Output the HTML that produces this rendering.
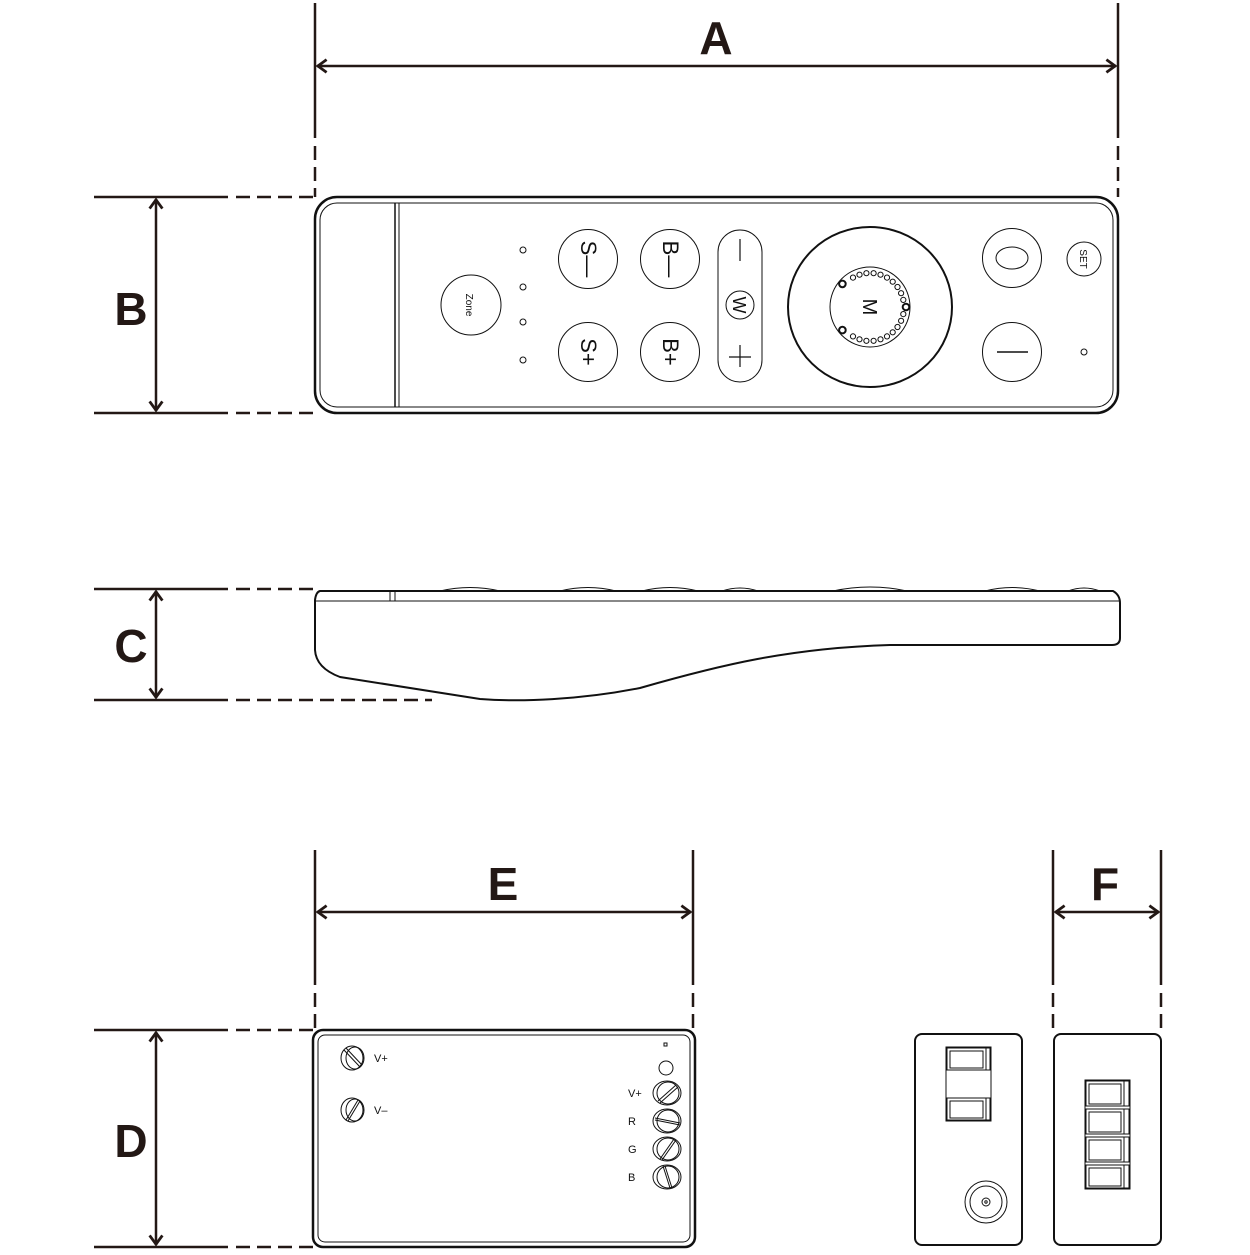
<!DOCTYPE html>
<html><head><style>html,body{margin:0;padding:0;background:#fff}</style></head>
<body>
<svg width="1250" height="1250" viewBox="0 0 1250 1250" xmlns="http://www.w3.org/2000/svg" font-family="Liberation Sans, sans-serif">
<defs>
<marker id="ar" viewBox="0 0 20 20" refX="18" refY="10" markerWidth="16" markerHeight="16" markerUnits="userSpaceOnUse" orient="auto-start-reverse">
<path d="M6,2 L17,10 L6,18" fill="none" stroke="#231815" stroke-width="3.5"/>
</marker>
</defs>
<g stroke="#231815" stroke-width="2.5" fill="none">
<line x1="315" y1="3" x2="315" y2="138"/><line x1="315" y1="146" x2="315" y2="197" stroke-dasharray="14,7"/>
<line x1="1118" y1="3" x2="1118" y2="138"/><line x1="1118" y1="146" x2="1118" y2="197" stroke-dasharray="14,7"/>
<line x1="317" y1="66" x2="1116" y2="66" marker-start="url(#ar)" marker-end="url(#ar)"/>
<line x1="94" y1="197" x2="228" y2="197"/><line x1="236" y1="197" x2="315" y2="197" stroke-dasharray="14,7"/>
<line x1="94" y1="413" x2="228" y2="413"/><line x1="236" y1="413" x2="315" y2="413" stroke-dasharray="14,7"/>
<line x1="156" y1="199" x2="156" y2="411" marker-start="url(#ar)" marker-end="url(#ar)"/>
<line x1="94" y1="589" x2="228" y2="589"/><line x1="236" y1="589" x2="315" y2="589" stroke-dasharray="14,7"/>
<line x1="94" y1="700" x2="228" y2="700"/><line x1="236" y1="700" x2="432" y2="700" stroke-dasharray="14,7"/>
<line x1="156" y1="591" x2="156" y2="698" marker-start="url(#ar)" marker-end="url(#ar)"/>
<line x1="315" y1="850" x2="315" y2="985"/><line x1="315" y1="993" x2="315" y2="1030" stroke-dasharray="14,7"/>
<line x1="693" y1="850" x2="693" y2="985"/><line x1="693" y1="993" x2="693" y2="1030" stroke-dasharray="14,7"/>
<line x1="317" y1="912" x2="691" y2="912" marker-start="url(#ar)" marker-end="url(#ar)"/>
<line x1="1053" y1="850" x2="1053" y2="985"/><line x1="1053" y1="993" x2="1053" y2="1030" stroke-dasharray="14,7"/>
<line x1="1161" y1="850" x2="1161" y2="985"/><line x1="1161" y1="993" x2="1161" y2="1030" stroke-dasharray="14,7"/>
<line x1="1055" y1="912" x2="1159" y2="912" marker-start="url(#ar)" marker-end="url(#ar)"/>
<line x1="94" y1="1030" x2="228" y2="1030"/><line x1="236" y1="1030" x2="313" y2="1030" stroke-dasharray="14,7"/>
<line x1="94" y1="1247" x2="228" y2="1247"/><line x1="236" y1="1247" x2="313" y2="1247" stroke-dasharray="14,7"/>
<line x1="156" y1="1032" x2="156" y2="1245" marker-start="url(#ar)" marker-end="url(#ar)"/>
</g>
<g fill="#231815" font-weight="bold" font-size="46" text-anchor="middle">
<text x="716" y="54">A</text><text x="131" y="325">B</text><text x="131" y="662">C</text>
<text x="503" y="900">E</text><text x="1105" y="900">F</text><text x="131" y="1157">D</text>
</g>

<g stroke="#111" fill="none">
<rect x="315" y="197" width="803" height="216" rx="22" stroke-width="2.5"/>
<rect x="320" y="203" width="793" height="204" rx="17" stroke-width="1"/>
<line x1="395" y1="203" x2="395" y2="407" stroke-width="1.5"/><line x1="399" y1="203" x2="399" y2="407" stroke-width="1"/>
<circle cx="471" cy="305" r="30"/>
<circle cx="523" cy="250" r="3"/><circle cx="523" cy="287" r="3"/><circle cx="523" cy="322" r="3"/><circle cx="523" cy="360" r="3"/>
<circle cx="588" cy="259" r="29.5"/><circle cx="588" cy="352" r="29.5"/>
<circle cx="670" cy="259" r="29.5"/><circle cx="670" cy="352" r="29.5"/>
<rect x="718" y="230" width="44" height="152" rx="22"/>
<circle cx="740" cy="305" r="14"/>
<ellipse cx="870" cy="307" rx="82" ry="80" stroke-width="2"/>
<circle cx="870" cy="307" r="40"/>
<circle cx="1012" cy="258" r="29.5"/><ellipse cx="1012" cy="258" rx="16" ry="11"/>
<circle cx="1012" cy="352" r="29.5"/><line x1="997" y1="352" x2="1028" y2="352" stroke-width="1.5"/>
<circle cx="1084" cy="259" r="17"/>
<circle cx="1084" cy="352" r="3"/>
<line x1="740" y1="345" x2="740" y2="367" stroke-width="1.2"/><line x1="729" y1="357" x2="751" y2="357" stroke-width="1.2"/>
<line x1="740" y1="239" x2="740" y2="261" stroke-width="1.2"/>
</g>
<g fill="#fff" stroke="#111" stroke-width="1">
<circle cx="853" cy="277.6" r="2.6"/><circle cx="859.5" cy="274.7" r="2.6"/><circle cx="866.4" cy="273.2" r="2.6"/><circle cx="873.6" cy="273.2" r="2.6"/><circle cx="880.5" cy="274.7" r="2.6"/><circle cx="887" cy="277.6" r="2.6"/><circle cx="892.7" cy="281.7" r="2.6"/><circle cx="897.5" cy="287" r="2.6"/><circle cx="901.1" cy="293.2" r="2.6"/><circle cx="903.3" cy="299.9" r="2.6"/>
<circle cx="903.3" cy="314.1" r="2.6"/><circle cx="901.1" cy="320.8" r="2.6"/><circle cx="897.5" cy="327" r="2.6"/><circle cx="892.7" cy="332.3" r="2.6"/><circle cx="887" cy="336.4" r="2.6"/><circle cx="880.5" cy="339.3" r="2.6"/><circle cx="873.6" cy="340.8" r="2.6"/><circle cx="866.4" cy="340.8" r="2.6"/><circle cx="859.5" cy="339.3" r="2.6"/><circle cx="853" cy="336.4" r="2.6"/>
<circle cx="842.4" cy="283.9" r="3.3" stroke-width="2"/><circle cx="906" cy="307" r="3.3" stroke-width="2"/><circle cx="842.4" cy="330.1" r="3.3" stroke-width="2"/>
</g>
<g fill="#111" font-size="22" text-anchor="middle">
<text transform="translate(581,259) rotate(90)">S—</text>
<text transform="translate(581,352) rotate(90)">S+</text>
<text transform="translate(663,259) rotate(90)">B—</text>
<text transform="translate(663,352) rotate(90)">B+</text>
<text transform="translate(733,305) rotate(90)" font-size="18">W</text>
<text transform="translate(863,307) rotate(90)" font-size="20">M</text>
<text transform="translate(466,305) rotate(90)" font-size="10">Zone</text>
<text transform="translate(1080,259) rotate(90)" font-size="10">SET</text>
</g>

<g stroke="#111" fill="none" stroke-width="2">
<path d="M320,591 L1113,591 Q1120,595 1120,603 L1120,638 Q1120,645 1112,645 L890,645 C790,648 720,665 640,688 C580,700 520,702 480,699 L340,677 Q316,668 315,650 L315,600 Q316,592 320,591 Z"/>
<line x1="316" y1="601" x2="1119" y2="601" stroke-width="1"/>
<line x1="390" y1="591" x2="390" y2="601" stroke-width="1"/><line x1="395" y1="591" x2="395" y2="601" stroke-width="1"/>
<g stroke-width="1"><path d="M440,591 Q470,584 500,591"/><path d="M560,591 Q588,584 616,591"/><path d="M642,591 Q670,584 698,591"/><path d="M722,591 Q740,585 758,591"/><path d="M833,591 Q870,583 907,591"/><path d="M985,591 Q1012,584 1040,591"/><path d="M1068,591 Q1084,585 1100,591"/></g>
</g>

<g stroke="#111" fill="none">
<rect x="313" y="1030" width="382" height="217" rx="10" stroke-width="2.5"/>
<rect x="318" y="1035" width="372" height="207" rx="7" stroke-width="1"/>
<g stroke-width="1">
<ellipse cx="352" cy="1058" rx="11" ry="12"/><ellipse cx="355" cy="1058" rx="9" ry="11"/><line x1="344" y1="1050" x2="360" y2="1067"/><line x1="346" y1="1048" x2="362" y2="1065"/>
<ellipse cx="352" cy="1110" rx="11" ry="12"/><ellipse cx="355" cy="1110" rx="9" ry="11"/><line x1="346" y1="1120" x2="358" y2="1100"/><line x1="348" y1="1121" x2="360" y2="1101"/>
<rect x="664" y="1043" width="3" height="3"/>
<circle cx="666" cy="1068" r="7"/>
<ellipse cx="667" cy="1093" rx="14" ry="12"/><ellipse cx="668" cy="1093" rx="11" ry="11"/><line x1="658" y1="1101" x2="676" y2="1085"/><line x1="660" y1="1103" x2="678" y2="1087"/>
<ellipse cx="667" cy="1121" rx="14" ry="12"/><ellipse cx="668" cy="1121" rx="11" ry="11"/><line x1="655" y1="1118" x2="680" y2="1123"/><line x1="655" y1="1120" x2="680" y2="1125"/>
<ellipse cx="667" cy="1149" rx="14" ry="12"/><ellipse cx="668" cy="1149" rx="11" ry="11"/><line x1="660" y1="1159" x2="674" y2="1139"/><line x1="662" y1="1160" x2="676" y2="1140"/>
<ellipse cx="667" cy="1177" rx="14" ry="12"/><ellipse cx="668" cy="1177" rx="11" ry="11"/><line x1="663" y1="1166" x2="670" y2="1188"/><line x1="665" y1="1166" x2="672" y2="1188"/>
</g>
</g>
<g fill="#111" font-size="11">
<text x="374" y="1062">V+</text><text x="374" y="1114">V–</text>
<text x="628" y="1097">V+</text><text x="628" y="1125">R</text><text x="628" y="1153">G</text><text x="628" y="1181">B</text>
</g>

<g stroke="#111" fill="none">
<rect x="915" y="1034" width="107" height="211" rx="7" stroke-width="2"/>
<rect x="1054" y="1034" width="107" height="211" rx="7" stroke-width="2"/>
<g stroke-width="1">
<rect x="946" y="1047" width="45" height="74"/>
<rect x="947" y="1048" width="43" height="22"/><rect x="950" y="1051" width="33" height="17"/><line x1="986" y1="1048" x2="986" y2="1070"/>
<rect x="947" y="1098" width="43" height="22"/><rect x="950" y="1101" width="33" height="17"/><line x1="986" y1="1098" x2="986" y2="1120"/>
<circle cx="986" cy="1202" r="21"/><circle cx="986" cy="1202" r="16"/><circle cx="986" cy="1202" r="4"/><circle cx="986" cy="1202" r="1.2"/>
<rect x="1085" y="1080" width="45" height="109"/>
<rect x="1086" y="1081" width="43" height="25"/><rect x="1089" y="1084" width="32" height="20"/><line x1="1124" y1="1081" x2="1124" y2="1106"/>
<rect x="1086" y="1109" width="43" height="25"/><rect x="1089" y="1112" width="32" height="20"/><line x1="1124" y1="1109" x2="1124" y2="1134"/>
<rect x="1086" y="1137" width="43" height="25"/><rect x="1089" y="1140" width="32" height="20"/><line x1="1124" y1="1137" x2="1124" y2="1162"/>
<rect x="1086" y="1165" width="43" height="23"/><rect x="1089" y="1168" width="32" height="18"/><line x1="1124" y1="1165" x2="1124" y2="1188"/>
</g>
</g>
</svg>
</body></html>
